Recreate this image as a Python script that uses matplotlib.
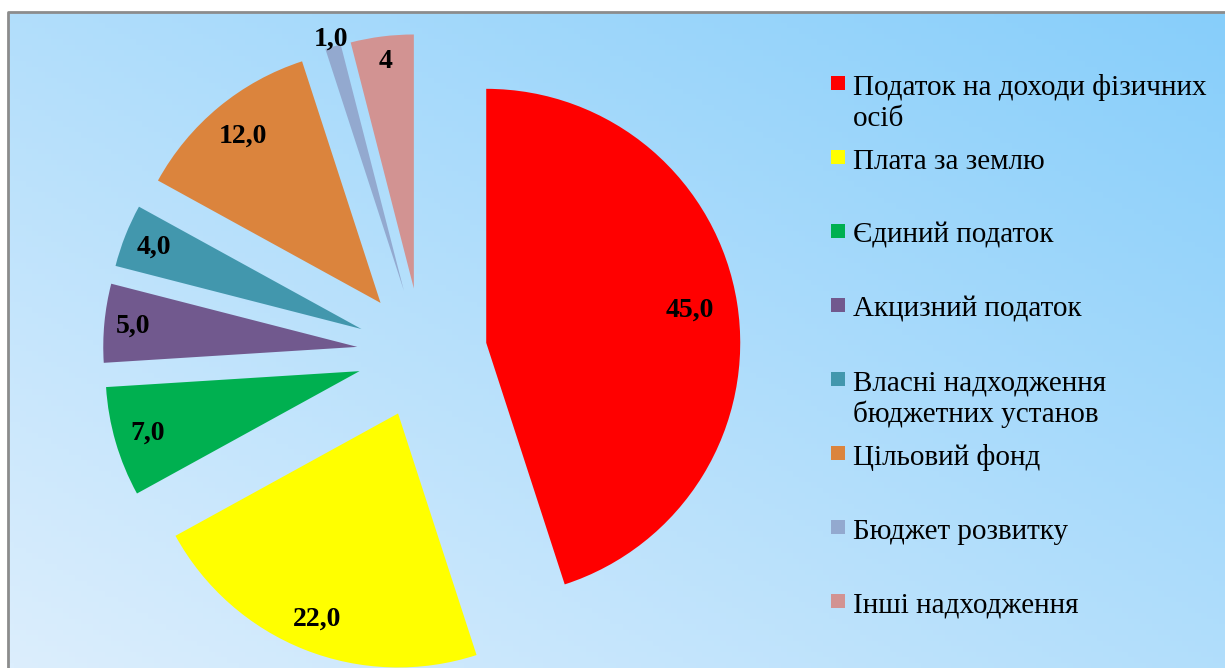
import numpy as np
import matplotlib.pyplot as plt
from matplotlib.patches import Rectangle

# data
names = ["Податок на доходи фізичних\nосіб", "Плата за землю", "Єдиний податок",
         "Акцизний податок", "Власні надходження\nбюджетних установ", "Цільовий фонд",
         "Бюджет розвитку", "Інші надходження"]
values = [45.0, 22.0, 7.0, 5.0, 4.0, 12.0, 1.0, 4.0]
value_labels = ["45,0", "22,0", "7,0", "5,0", "4,0", "12,0", "1,0", "4"]
colors = ["#ff0000", "#ffff00", "#00b050", "#71598e", "#4297ad", "#db843d", "#93a9cf", "#d29392"]

# label distance from each wedge centre, in radii
label_dist = [0.81, 0.87, 0.87, 0.885, 0.88, 0.85, 1.03, 0.9]

W, H = 1225, 668
fig = plt.figure(figsize=(W / 100, H / 100), dpi=100)
fig.patch.set_facecolor("white")

# background with gradient (pixel coords, y up)
bg = fig.add_axes([0, 0, 1, 1])
bg.set_xlim(0, W)
bg.set_ylim(0, H)
bg.axis("off")
top = H - 12
left = 8
xx, yy = np.meshgrid(np.linspace(0, 1, 200), np.linspace(0, 1, 120))
t = (xx + yy) / 2
c0 = np.array([220, 238, 253]) / 255.
c1 = np.array([135, 206, 250]) / 255.
img = c0[None, None, :] * (1 - t[..., None]) + c1[None, None, :] * t[..., None]
bg.imshow(img, extent=(left, W, 0, top), origin="lower", aspect="auto", zorder=0)
bg.plot([left, left, W], [0, top, top], color="#8c8c8c", lw=2, zorder=1)

# pie, 1 unit = R pixels
R = 254.
cx, cy = 422, 353
ax = fig.add_axes([0, 0, 1, 1])
ax.patch.set_alpha(0)
wedges, _ = ax.pie(values, colors=colors, explode=[0.256] * len(values),
                   startangle=90, counterclock=False, radius=1,
                   wedgeprops=dict(linewidth=0))
ax.set_xlim(-cx / R, (W - cx) / R)
ax.set_ylim(-(H - cy) / R, cy / R)
ax.set_aspect("equal")
ax.axis("off")

for w, lab, d in zip(wedges, value_labels, label_dist):
    th = np.deg2rad((w.theta1 + w.theta2) / 2)
    x = w.center[0] + d * w.r * np.cos(th)
    y = w.center[1] + d * w.r * np.sin(th)
    ax.text(x, y, lab, ha="center", va="center", fontsize=20,
            fontweight="bold", family="Liberation Serif", color="black")

# legend: marker on the first line, entries spaced evenly
for i, (nm, col) in enumerate(zip(names, colors)):
    yb = H - (95 + 74 * i)
    bg.add_patch(Rectangle((831, yb + 5.5), 14, 14, facecolor=col, edgecolor="none", zorder=2))
    for j, line in enumerate(nm.split("\n")):
        bg.text(853, yb - 31 * j, line, ha="left", va="baseline", fontsize=21,
                family="Liberation Serif", color="black", zorder=2)

fig.savefig("out.png", dpi=100)
